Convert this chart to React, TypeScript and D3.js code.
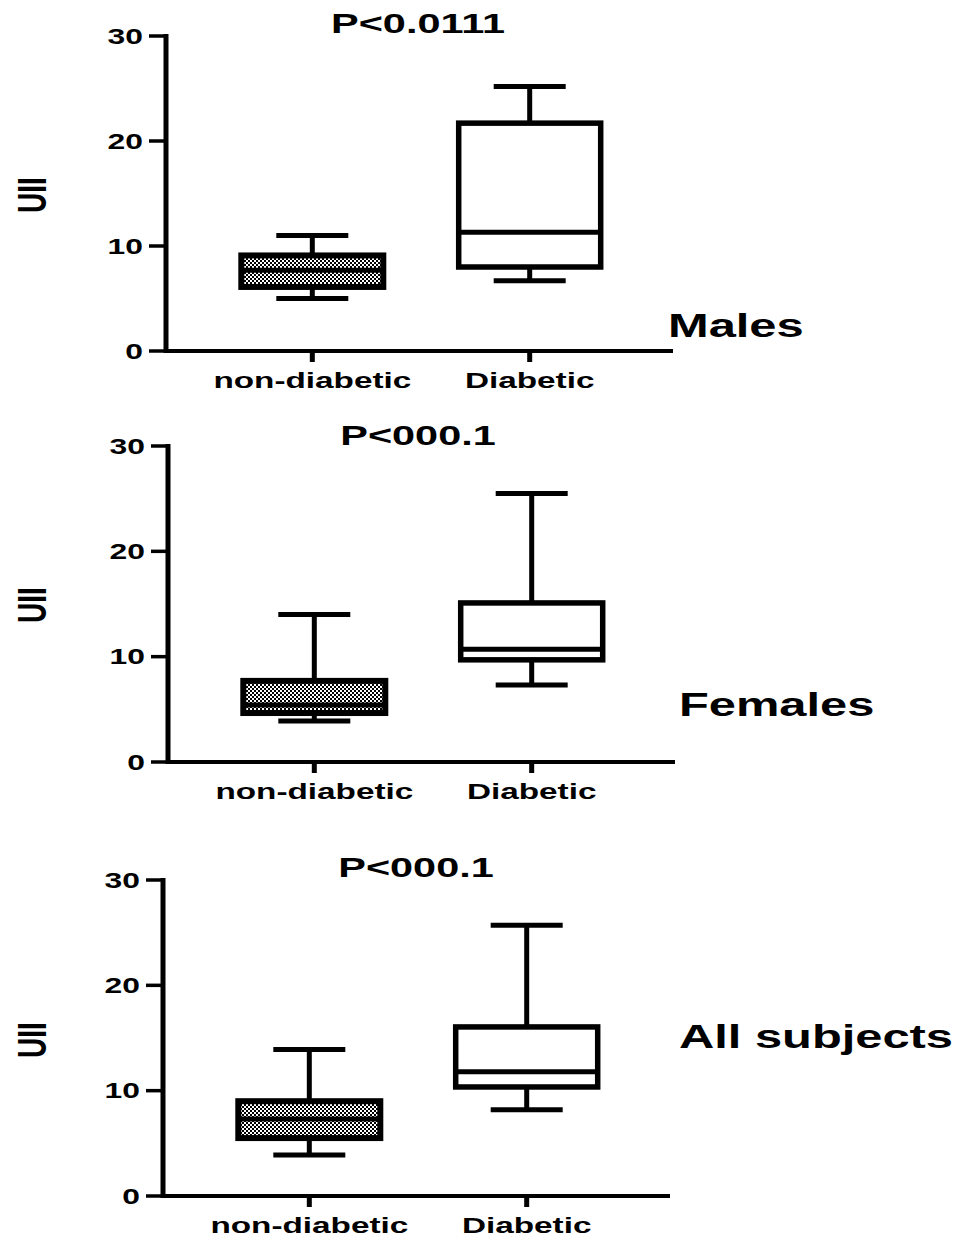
import React from 'react';
import * as d3 from 'd3';

const width = 957;
const height = 1239;
const sx = 1.48; // text in the figure is stretched horizontally

const groups = ['non-diabetic', 'Diabetic'];
const panelNames = ['Males', 'Females', 'All subjects'];
const pValues = ['P<0.0111', 'P<000.1', 'P<000.1'];
const yTicks = [0, 10, 20, 30];

// [min, q1, median, q3, max] for non-diabetic, Diabetic
const malesStats = [
  [5.0, 6.1, 7.7, 9.1, 11.0],
  [6.7, 8.0, 11.3, 21.7, 25.2]
];
const femalesStats = [
  [3.9, 4.65, 5.4, 7.7, 14.0],
  [7.3, 9.7, 10.7, 15.1, 25.5]
];
const allStats = [
  [3.9, 5.5, 7.3, 9.0, 13.9],
  [8.2, 10.35, 11.8, 16.05, 25.7]
];
const panelStats = [malesStats, femalesStats, allStats];

const layout = [
  { axisX: 166, y0: 351, y30: 36, title: [418, 33], name: [668, 337], ylab: [31, 195] },
  { axisX: 168, y0: 762, y30: 446, title: [418, 445], name: [679, 716], ylab: [31, 605] },
  { axisX: 163, y0: 1196, y30: 880, title: [416, 877], name: [679, 1048], ylab: [31, 1040] }
];

const font = "'Liberation Sans', Arial, sans-serif";

const T = ({ x, y, size, anchor = 'start', rotate = 0, children }) => (
  <text
    transform={`translate(${x},${y}) scale(${sx},1)${rotate ? ` rotate(${rotate})` : ''}`}
    fontSize={size}
    fontWeight="bold"
    fontFamily={font}
    textAnchor={anchor}
    fill="#000"
  >
    {children}
  </text>
);

const Panel = ({ idx }) => {
  const L = layout[idx];
  const stats = panelStats[idx];
  const y = d3.scaleLinear().domain([0, 30]).range([L.y0, L.y30]);
  const x = d3.scalePoint().domain(groups).range([L.axisX, L.axisX + 510]).padding(0.673);
  const boxW = 142;
  const capW = 72;

  return (
    <g>
      {/* y axis */}
      <line x1={L.axisX} x2={L.axisX} y1={y(30) - 2} y2={y(0) + 2} stroke="#000" strokeWidth={5} />
      {yTicks.map(t => (
        <g key={t}>
          <line x1={L.axisX - 17} x2={L.axisX} y1={y(t)} y2={y(t)} stroke="#000" strokeWidth={3.5} />
          <T x={L.axisX - 23} y={y(t) + 7.5} size={21.5} anchor="end">{t}</T>
        </g>
      ))}
      {/* x axis */}
      <line x1={L.axisX} x2={L.axisX + 507} y1={y(0)} y2={y(0)} stroke="#000" strokeWidth={4} />
      {groups.map(g => (
        <g key={g}>
          <line x1={x(g)} x2={x(g)} y1={y(0)} y2={y(0) + 11} stroke="#000" strokeWidth={5} />
          <T x={x(g)} y={y(0) + 37} size={22.5} anchor="middle">{g}</T>
        </g>
      ))}

      {/* boxes */}
      {groups.map((g, i) => {
        const [mn, q1, md, q3, mx] = stats[i];
        const cx = x(g);
        return (
          <g key={g}>
            <line x1={cx} x2={cx} y1={y(mx)} y2={y(q3)} stroke="#000" strokeWidth={5} />
            <line x1={cx} x2={cx} y1={y(q1)} y2={y(mn)} stroke="#000" strokeWidth={5} />
            <line x1={cx - capW / 2} x2={cx + capW / 2} y1={y(mx)} y2={y(mx)} stroke="#000" strokeWidth={5} />
            <line x1={cx - capW / 2} x2={cx + capW / 2} y1={y(mn)} y2={y(mn)} stroke="#000" strokeWidth={5} />
            <rect
              x={cx - boxW / 2}
              y={y(q3)}
              width={boxW}
              height={y(q1) - y(q3)}
              fill={i === 0 ? 'url(#checker)' : '#fff'}
              stroke="#000"
              strokeWidth={i === 0 ? 6 : 5.5}
            />
            <line x1={cx - boxW / 2} x2={cx + boxW / 2} y1={y(md)} y2={y(md)} stroke="#000" strokeWidth={5} />
          </g>
        );
      })}

      <T x={L.title[0]} y={L.title[1]} size={28} anchor="middle">{pValues[idx]}</T>
      <T x={L.name[0]} y={L.name[1]} size={33}>{panelNames[idx]}</T>
      <T x={L.ylab[0]} y={L.ylab[1]} size={28} anchor="middle" rotate={-90}>
        <tspan dy="10">UII</tspan>
      </T>
    </g>
  );
};

export default function App() {
  return (
    <svg
      width={width}
      height={height}
      style={{ position: 'absolute', left: 0, top: 0, background: '#fff' }}
    >
      <defs>
        <pattern id="checker" width={4} height={4} patternUnits="userSpaceOnUse">
          <rect width={4} height={4} fill="#fff" />
          <rect x={0} y={0} width={2} height={2} fill="#000" />
          <rect x={2} y={2} width={2} height={2} fill="#000" />
        </pattern>
      </defs>
      <rect width={width} height={height} fill="#fff" />
      {layout.map((_, i) => (
        <Panel key={i} idx={i} />
      ))}
    </svg>
  );
}
